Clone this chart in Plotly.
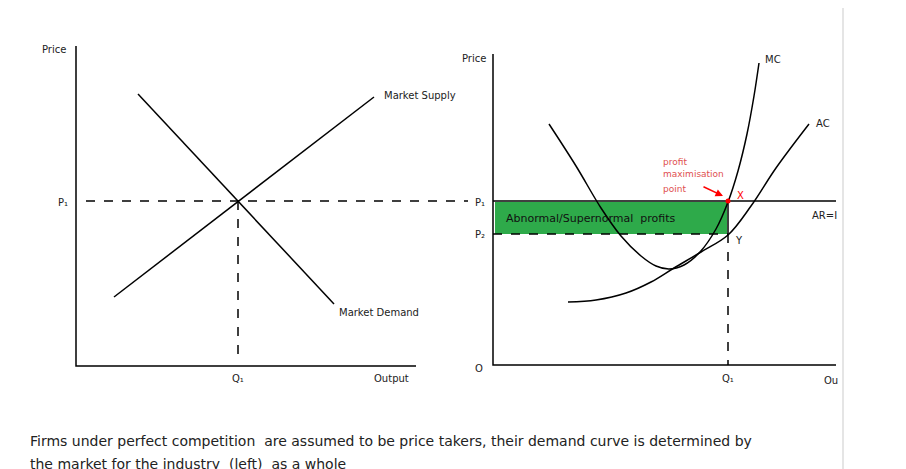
import plotly.graph_objects as go

# diagram coordinates (canvas units, y grows downward)
demand_x = [122, 318]; demand_y = [78, 288]
supply_x = [98, 358]; supply_y = [281, 81]
mc_x = [533, 560, 585, 605, 625, 640, 653, 668, 684, 700, 712, 722, 731, 738, 743]
mc_y = [108, 150, 192, 220, 240, 250, 253, 249, 236, 213, 186, 155, 118, 80, 47]
ac_x = [552, 580, 610, 635, 658, 685, 712, 735, 760, 793]
ac_y = [286, 284, 277, 266, 252, 236, 219, 190, 152, 108]
p1_y = 185; p2_y = 218; q1_left = 222; q1_right = 712

fig = go.Figure()
blk = dict(color="black", width=1.5)
def line(x, y, **kw):
    fig.add_trace(go.Scatter(x=x, y=y, mode="lines", line=kw.get("l", blk), hoverinfo="skip", showlegend=False))

fig.add_shape(type="rect", x0=479, x1=q1_right-1, y0=p1_y+1, y1=p2_y, fillcolor="#2eaa4a", line=dict(width=0), layer="below")
line([60, 60, 400], [30, 350, 350])
line([477, 477, 820], [38, 349, 349])
line(demand_x, demand_y); line(supply_x, supply_y)
dash = dict(color="black", width=1.5, dash="dash")
line([70, 452], [p1_y, p1_y], l=dash)
line([q1_left, q1_left], [p1_y, 342], l=dash)
line([477, 820], [p1_y, p1_y], l=dict(color="black", width=1.5))
line([477, q1_right], [p2_y, p2_y], l=dash)
line([q1_right, q1_right], [p1_y, p2_y], l=blk)
line([q1_right, q1_right], [p2_y, 349], l=dash)
line(mc_x, mc_y, l=dict(color="black", width=1.5, shape="spline"))
line(ac_x, ac_y, l=dict(color="black", width=1.5, shape="spline"))
fig.add_trace(go.Scatter(x=[q1_right], y=[p1_y], mode="markers", marker=dict(color="red", size=5), showlegend=False, hoverinfo="skip"))

f = "DejaVu Sans"
def txt(x, y, s, size=10, color="#222", anchor="center"):
    fig.add_annotation(x=x, y=y, text=s, showarrow=False, font=dict(family=f, size=size, color=color), xanchor=anchor)
txt(38, 33, "Price", 10); txt(47, 186, "P₁", 10); txt(222, 362, "Q₁", 10); txt(375, 362, "Output", 10)
txt(366, 79, "Market Supply", 10, anchor="left"); txt(321, 296, "Market Demand", 10, anchor="left")
txt(458, 42, "Price", 10); txt(757, 43, "MC", 10); txt(807, 107, "AC", 10)
txt(464, 186, "P₁", 10); txt(464, 218, "P₂", 10); txt(808, 199, "AR=I", 10)
txt(724, 179, "X", 10, "red"); txt(723, 224, "Y", 10); txt(463, 352, "O", 10)
txt(712, 362, "Q₁", 10); txt(815, 364, "Ou", 10)
txt(645, 146, "profit", 9, "#e05050", "left"); txt(645, 158, "maximisation", 9, "#e05050", "left"); txt(645, 173, "point", 9, "#e05050", "left")
txt(575, 202, "Abnormal/Supernormal  profits", 11, "#111")
fig.add_annotation(x=707, y=180, ax=686, ay=170, xref="x", yref="y", axref="x", ayref="y", text="", showarrow=True,
                   arrowhead=2, arrowsize=1, arrowwidth=1.5, arrowcolor="red")
txt(12, 425, "Firms under perfect competition  are assumed to be price takers, their demand curve is determined by", 14, "#222", "left")
txt(12, 448, "the market for the industry  (left)  as a whole", 14, "#222", "left")
fig.add_shape(type="line", x0=827, x1=827, y0=-10, y1=480, line=dict(color="#dddddd", width=1.5))

fig.update_layout(width=906, height=469, margin=dict(l=0, r=0, t=0, b=0), plot_bgcolor="white", paper_bgcolor="white",
                  xaxis=dict(range=[-8, 898], visible=False, fixedrange=True),
                  yaxis=dict(range=[461, -8], visible=False, fixedrange=True))
fig.write_html("out.html")
